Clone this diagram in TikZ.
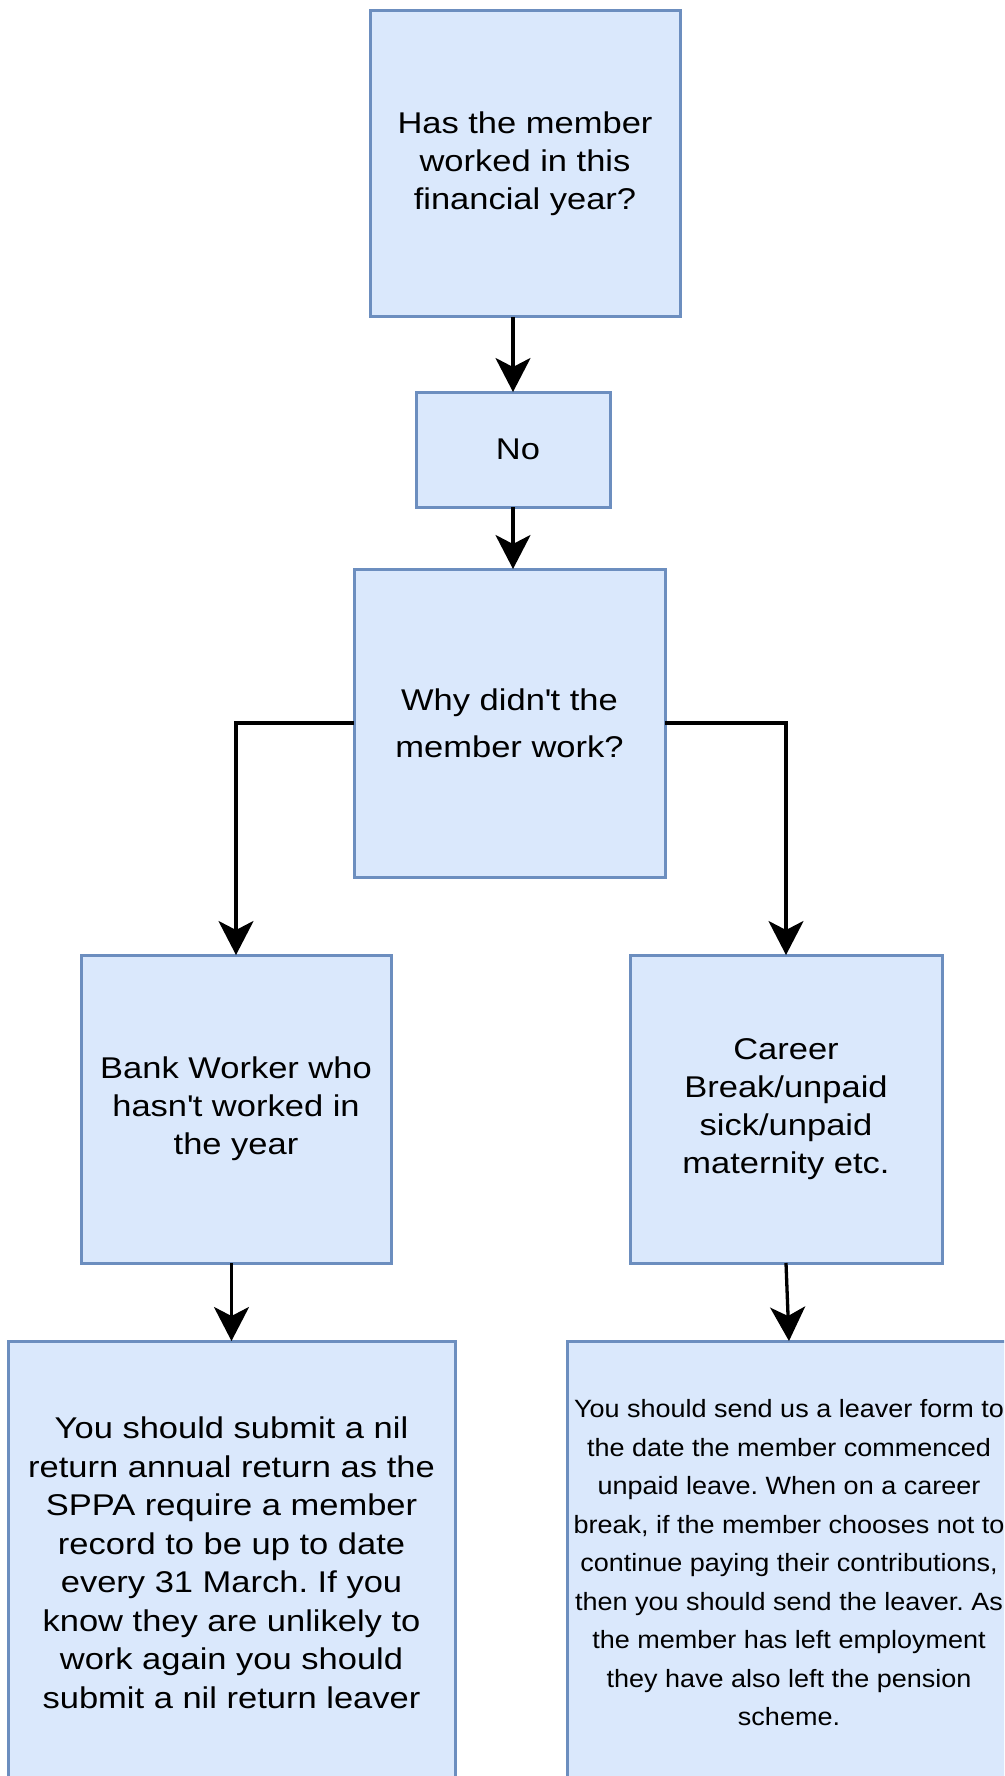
\documentclass[tikz,border=0pt]{standalone}
\usepackage{fontspec}
\usetikzlibrary{arrows.meta}
\newfontfamily\dfont[FakeStretch=1.15]{Liberation Sans}
\newfontfamily\sfont[FakeStretch=1.08]{Liberation Sans}
\definecolor{boxfill}{HTML}{DAE8FC}
\definecolor{boxline}{HTML}{6C8EBF}
\frenchspacing
\tikzset{
  box/.style={draw=boxline, fill=boxfill, line width=3pt, rectangle, align=center, inner sep=0pt, outer sep=0pt,
    font=\dfont\fontsize{30}{38}\selectfont},
  arr/.style={draw=black, line width=3.3pt, -{Stealth[length=34pt,width=35pt,inset=9pt]}}
}
\begin{document}
\begin{tikzpicture}[x=1pt,y=-1pt]
\useasboundingbox (0,0) rectangle (1004,1776);
\clip (0,0) rectangle (1004,1776);
\node[box, minimum width=310pt, minimum height=306pt] (b1) at (525,164) {Has the member\\worked in this\\financial year?};
\node[box, minimum width=194pt, minimum height=115pt] (no) at (513,449.5) {\hspace*{10pt}No};
\node[box, minimum width=311pt, minimum height=308pt, font=\dfont\fontsize{30}{47}\selectfont] (why) at (509.5,723) {Why didn\textquotesingle t the\\member work?};
\node[box, minimum width=310pt, minimum height=308pt] (bank) at (236,1109) {Bank Worker who\\hasn\textquotesingle t worked in\\the year};
\node[box, minimum width=312pt, minimum height=308pt] (career) at (786,1109) {Career\\Break/unpaid\\sick/unpaid\\maternity etc.};
\node[box, minimum width=447pt, minimum height=444pt, font=\dfont\fontsize{30}{38.5}\selectfont] (nil) at (231.5,1563) {You should submit a nil\\return annual return as the\\SPPA require a member\\record to be up to date\\every 31 March. If you\\know they are unlikely to\\work again you should\\submit a nil return leaver};
\node[box, minimum width=444pt, minimum height=444pt, font=\sfont\fontsize{25}{38.5}\selectfont] (leaver) at (789,1563) {You should send us a leaver form to\\the date the member commenced\\unpaid leave. When on a career\\break, if the member chooses not to\\continue paying their contributions,\\then you should send the leaver. As\\the member has left employment\\they have also left the pension\\scheme.};
\draw[arr] (b1.south -| no.north) -- (no.north);
\draw[arr] (no.south) -- (no.south |- why.north);
\draw[arr] (why.west) -| (bank.north);
\draw[arr] (why.east) -| (career.north);
\draw[arr] (bank.south -| nil.north) -- (nil.north);
\draw[arr] (career.south) -- (leaver.north);
\end{tikzpicture}
\end{document}
